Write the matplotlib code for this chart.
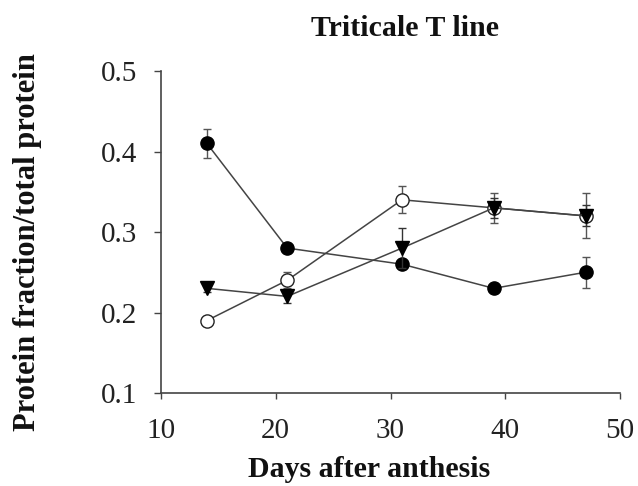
import matplotlib
matplotlib.use("Agg")
import matplotlib.pyplot as plt

days = [14, 21, 31, 39, 47]
filled = [0.41, 0.28, 0.26, 0.23, 0.25]
filled_err = [0.018, 0.005, 0.005, 0.004, 0.019]
open_c = [0.19, 0.24, 0.34, 0.33, 0.32]
open_err = [0.004, 0.010, 0.017, 0.019, 0.028]
tri = [0.23, 0.22, 0.28, 0.33, 0.32]
tri_err = [0.004, 0.008, 0.025, 0.012, 0.013]

plt.rcParams['font.family'] = ['Liberation Serif', 'DejaVu Serif']

W, H = 638, 486
fig = plt.figure(figsize=(W / 100, H / 100), dpi=100)
ax = fig.add_axes([161 / W, 1 - 393 / H, (620 - 161) / W, (393 - 71) / H])

lc = '#444444'
ax.errorbar(days, filled, yerr=filled_err, color=lc, lw=1.1, ecolor='#555555',
            elinewidth=1, capsize=3, marker='o', ms=9.5, mfc='black', mec='black', zorder=3)
ax.errorbar(days, open_c, yerr=open_err, color=lc, lw=1.1, ecolor='#555555',
            elinewidth=1, capsize=3, marker='o', ms=9.5, mfc='white', mec='#222222', mew=1, zorder=3)
ax.errorbar(days, tri, yerr=tri_err, color=lc, lw=1.1, ecolor='#333333',
            elinewidth=1, capsize=3, marker='v', ms=9.5, mfc='black', mec='black', zorder=4)

ax.set_xlim(10, 50)
ax.set_ylim(0.1, 0.5)
ax.set_xticks([10, 20, 30, 40, 50])
ax.set_yticks([0.1, 0.2, 0.3, 0.4, 0.5])
ax.set_yticklabels(['0.1', '0.2', '0.3', '0.4', '0.5'])
for s in ['top', 'right']:
    ax.spines[s].set_visible(False)
for s in ['left', 'bottom']:
    ax.spines[s].set_color('#444444')
    ax.spines[s].set_linewidth(1.2)
ax.tick_params(axis='y', direction='out', length=5, width=1, color='#444444',
               labelsize=21, pad=12, labelcolor='#222222')
ax.tick_params(axis='x', direction='out', length=4, width=1, color='#444444',
               labelsize=21, pad=14, labelcolor='#222222')

fig.text(405 / W, 1 - 36 / H, 'Triticale T line', fontsize=21.5, fontweight='bold',
         ha='center', va='baseline', color='#111111')
fig.text(369 / W, 1 - 477 / H, 'Days after anthesis', fontsize=21.5, fontweight='bold',
         ha='center', va='baseline', color='#111111')
fig.text(35 / W, 1 - 242 / H, 'Protein fraction/total protein', fontsize=22,
         fontweight='bold', ha='center', va='baseline', rotation=90,
         rotation_mode='anchor', color='#111111')

fig.savefig('out.png', dpi=100)
